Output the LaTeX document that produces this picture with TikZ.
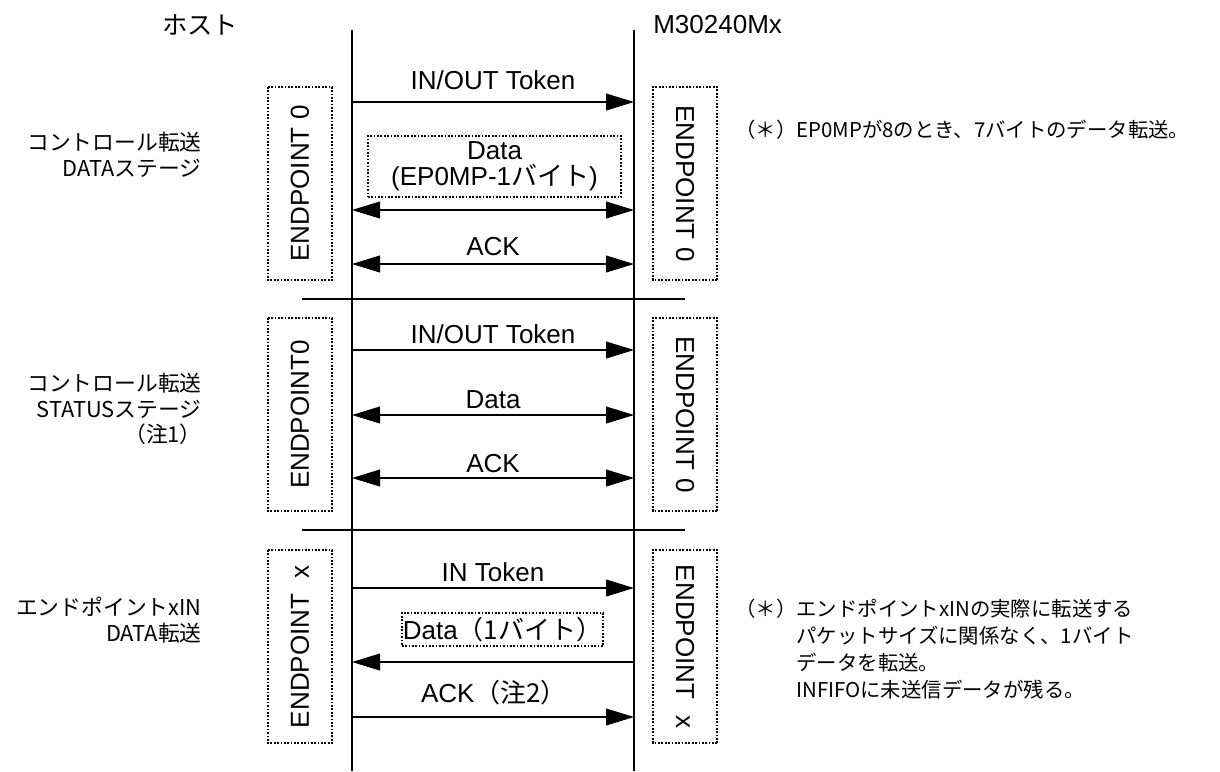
\documentclass[tikz,border=0pt]{standalone}
\usepackage{fontspec}
\setmainfont{Liberation Sans}
\newfontfamily\jpfont{Noto Sans CJK JP}
\usetikzlibrary{arrows.meta}
\usetikzlibrary{positioning}

\begin{document}
\begin{tikzpicture}[x=0.025cm,y=-0.025cm,
  line/.style={line width=1pt},
  msg/.style={line width=1pt,-{Triangle[length=0.7cm,width=0.42cm]}},
  bimsg/.style={line width=1pt,{Triangle[length=0.7cm,width=0.42cm]}-{Triangle[length=0.7cm,width=0.42cm]}},
  dotbox/.style={draw,line width=1pt,dash pattern=on 1.2pt off 1.2pt,inner sep=0pt,align=center,font=\fontsize{18.5}{18.5}\selectfont},
  epbox/.style={dotbox,minimum width=4.83cm,minimum height=1.6cm},
  lbl/.style={font=\fontsize{18.5}{19}\selectfont,anchor=base,inner sep=0pt},
  stage/.style={font=\jpfont\fontsize{15.5}{18.2}\selectfont,align=right,anchor=east,inner sep=0pt},
  note/.style={font=\jpfont\fontsize{14.5}{19.2}\selectfont,align=left,anchor=west,inner sep=0pt}]
\useasboundingbox (0,0) rectangle (1220,771);

% header
\node[font=\jpfont\fontsize{18}{20}\selectfont] (host) at (200,25) {ホスト};
\node[font=\fontsize{18.5}{20}\selectfont,anchor=west,inner sep=0pt] (dev) at (653,25) {M30240Mx};

% lifelines
\coordinate (htop) at (352,30);
\coordinate (hbot) at (352,771);
\coordinate (dtop) at (634,30);
\coordinate (dbot) at (634,771);
\draw[line] (htop) -- (hbot);
\draw[line] (dtop) -- (dbot);

% stage separators
\coordinate (s1l) at (302,299);
\coordinate (s1r) at (685,299);
\coordinate (s2l) at (302,530);
\coordinate (s2r) at (685,530);
\draw[line] (s1l) -- (s1r);
\draw[line] (s2l) -- (s2r);

\foreach \n/\y in {a/102,b/210,c/264,d/350,e/415,f/478,g/588,h/662,i/717} {
  \coordinate (h\n) at (352,\y);
  \coordinate (d\n) at (634,\y);
}

% control transfer, data stage
\node[stage] (st1) at (202,155) {コントロール転送\\DATAステージ};
\node[epbox,rotate=90] (ep1l) at (300,183.5) {ENDPOINT 0};
\node[epbox,rotate=-90] (ep1r) at (685,183.5) {ENDPOINT 0};
\node[lbl] (ta) at (493,89) {IN/OUT Token};
\draw[msg] (ha) -- (da);
\node[dotbox,minimum width=6.33cm,minimum height=1.53cm] (data1) at (494.5,166.5) {Data\\(EP0MP-1{\jpfont バイト})};
\draw[bimsg] (hb) -- (db);
\node[lbl] (tc) at (493,255) {ACK};
\draw[bimsg] (hc) -- (dc);
\node[note] (n1) at (735,130) {（＊）EP0MPが8のとき、7バイトのデータ転送。};

% control transfer, status stage
\node[stage] (st2) at (202,409) {コントロール転送\\STATUSステージ\\（注1）};
\node[epbox,rotate=90] (ep2l) at (300,414.5) {ENDPOINT0};
\node[epbox,rotate=-90] (ep2r) at (685,414.5) {ENDPOINT 0};
\node[lbl] (td) at (493,343) {IN/OUT Token};
\draw[msg] (hd) -- (dd);
\node[lbl] (te) at (493,408) {Data};
\draw[bimsg] (he) -- (de);
\node[lbl] (tf) at (493,472) {ACK};
\draw[bimsg] (hf) -- (df);

% endpoint x IN data transfer
\node[stage] (st3) at (202,620) {エンドポイントxIN\\DATA転送};
\node[epbox,rotate=90] (ep3l) at (300,646.5) {ENDPOINT\hspace{0.6em}x};
\node[epbox,rotate=-90] (ep3r) at (685,646.5) {ENDPOINT\hspace{0.6em}x};
\node[lbl] (tg) at (493,581) {IN Token};
\draw[msg] (hg) -- (dg);
\node[dotbox,minimum width=5.03cm,minimum height=0.83cm] (data3) at (502.5,629.5) {Data{\jpfont （1バイト）}};
\draw[msg] (dh) -- (hh);
\node[lbl] (ti) at (494,702) {ACK{\jpfont （注2）}};
\draw[msg] (hi) -- (di);
\node[note] (n3) at (735,649) {（＊）エンドポイントxINの実際に転送する\\\hspace*{3em}パケットサイズに関係なく、1バイト\\\hspace*{3em}データを転送。\\\hspace*{3em}INFIFOに未送信データが残る。};

\end{tikzpicture}
\end{document}
